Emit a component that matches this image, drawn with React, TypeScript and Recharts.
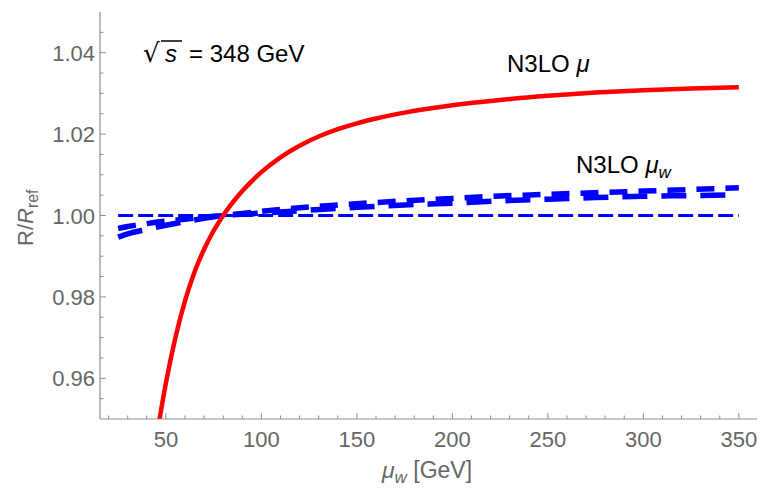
import React from "react";
import { LineChart, Line, XAxis, YAxis } from "recharts";

// mu_w [GeV] vs R/R_ref
const MU_RED = [46.5, 50, 55, 60, 65, 70, 75, 80, 90, 100, 110, 120, 130, 140, 150, 160, 175, 200, 225, 250, 275, 300, 325, 350];
const R_RED = [0.9495, 0.9588, 0.97, 0.979, 0.9861, 0.9917, 0.99625, 1.0, 1.006, 1.01065, 1.0143, 1.01715, 1.0194, 1.0212, 1.02265, 1.02383, 1.02527, 1.02707, 1.02838, 1.0294, 1.0302, 1.0308, 1.0312, 1.0315];

const MU_BLUE = [25, 30, 40, 50, 60, 70, 80.4, 90, 100, 125, 150, 175, 200, 225, 250, 275, 300, 325, 350];
const R_BLUE_UP = [0.9968, 0.9973, 0.998, 0.9986, 0.9991, 0.9996, 1.0, 1.0005, 1.001, 1.0021, 1.0029, 1.0036, 1.0042, 1.0048, 1.0052, 1.0056, 1.006, 1.0064, 1.0068];
const R_BLUE_LO = [0.9947, 0.9955, 0.9966, 0.9976, 0.9985, 0.9993, 1.0, 1.0003, 1.0006, 1.0013, 1.002, 1.0026, 1.003, 1.0036, 1.004, 1.0044, 1.0047, 1.0049, 1.0051];

const MU_REF = [25, 350];
const R_REF = [1.0, 1.0];

const X_MAJOR = [50, 100, 150, 200, 250, 300, 350];
const X_TICKS = [20, 30, 40, 50, 60, 70, 80, 90, 100, 110, 120, 130, 140, 150, 160, 170, 180, 190, 200, 210, 220, 230, 240, 250, 260, 270, 280, 290, 300, 310, 320, 330, 340, 350];
const Y_MAJOR = [0.96, 0.98, 1.0, 1.02, 1.04];
const Y_TICKS = [0.955, 0.96, 0.965, 0.97, 0.975, 0.98, 0.985, 0.99, 0.995, 1.0, 1.005, 1.01, 1.015, 1.02, 1.025, 1.03, 1.035, 1.04, 1.045];

const toRows = (xs: number[], ys: number[]) => xs.map((mu, i) => ({ mu, v: ys[i] }));

const FRAME = "#8f8f8f";
const LABEL = "#666";
const FONT = "'Liberation Sans', Arial, Helvetica, sans-serif";

const isMajor = (list: number[], v: number) => list.some((m) => Math.abs(m - v) < 1e-9);

const BottomTick = ({ x, y, payload }: any) => {
  const major = isMajor(X_MAJOR, payload.value);
  return (
    <g>
      <line x1={x} x2={x} y1={y} y2={y - (major ? 6 : 3.5)} stroke={FRAME} strokeWidth={1} />
      {major && (
        <text x={x} y={y + 28} textAnchor="middle" fill={LABEL} fontSize={22} fontFamily={FONT}>
          {payload.value}
        </text>
      )}
    </g>
  );
};

const TopTick = ({ x, y, payload }: any) => {
  const major = isMajor(X_MAJOR, payload.value);
  return <line x1={x} x2={x} y1={y} y2={y + (major ? 6 : 3.5)} stroke={FRAME} strokeWidth={1} />;
};

const LeftTick = ({ x, y, payload }: any) => {
  const major = isMajor(Y_MAJOR, payload.value);
  return (
    <g>
      <line x1={x} x2={x + (major ? 6 : 3.5)} y1={y} y2={y} stroke={FRAME} strokeWidth={1} />
      {major && (
        <text x={x - 5} y={y + 8} textAnchor="end" fill={LABEL} fontSize={22} fontFamily={FONT}>
          {payload.value.toFixed(2)}
        </text>
      )}
    </g>
  );
};

const RightTick = ({ x, y, payload }: any) => {
  const major = isMajor(Y_MAJOR, payload.value);
  return <line x1={x} x2={x - (major ? 6 : 3.5)} y1={y} y2={y} stroke={FRAME} strokeWidth={1} />;
};

export default function App() {
  return (
    <div style={{ position: "absolute", left: 0, top: 0, width: 761, height: 492, background: "#fff" }}>
      <LineChart width={761} height={492} margin={{ top: 12, right: 4, bottom: 0, left: 0 }}>
        <XAxis
          type="number"
          dataKey="mu"
          domain={[15.5, 359.5]}
          ticks={X_TICKS}
          interval={0}
          allowDataOverflow
          height={73}
          tickSize={0}
          tickMargin={0}
          tickLine={false}
          tick={<BottomTick />}
          axisLine={{ stroke: FRAME, strokeWidth: 1.2 }}
        />
        <XAxis
          xAxisId="t"
          orientation="top"
          type="number"
          dataKey="mu"
          domain={[15.5, 359.5]}
          ticks={X_TICKS}
          interval={0}
          allowDataOverflow
          height={0}
          tickSize={0}
          tickMargin={0}
          tickLine={false}
          tick={<TopTick />}
          axisLine={{ stroke: FRAME, strokeWidth: 1.2 }}
        />
        <YAxis
          type="number"
          domain={[0.95, 1.05]}
          ticks={Y_TICKS}
          interval={0}
          allowDataOverflow
          width={100}
          tickSize={0}
          tickMargin={0}
          tickLine={false}
          tick={<LeftTick />}
          axisLine={{ stroke: FRAME, strokeWidth: 1.2 }}
        />
        <YAxis
          yAxisId="r"
          orientation="right"
          type="number"
          domain={[0.95, 1.05]}
          ticks={Y_TICKS}
          interval={0}
          allowDataOverflow
          width={0}
          tickSize={0}
          tickMargin={0}
          tickLine={false}
          tick={<RightTick />}
          axisLine={{ stroke: FRAME, strokeWidth: 1.2 }}
        />
        <Line data={toRows(MU_REF, R_REF)} dataKey="v" stroke="#0000ff" strokeWidth={3} strokeDasharray="15 5" dot={false} isAnimationActive={false} />
        <Line data={toRows(MU_BLUE, R_BLUE_LO)} dataKey="v" type="monotone" stroke="#0000ff" strokeWidth={5.5} strokeDasharray="25 14" dot={false} isAnimationActive={false} />
        <Line data={toRows(MU_BLUE, R_BLUE_UP)} dataKey="v" type="monotone" stroke="#0000ff" strokeWidth={5.5} strokeDasharray="18 11" dot={false} isAnimationActive={false} />
        <Line data={toRows(MU_RED, R_RED)} dataKey="v" type="monotone" stroke="#ff0000" strokeWidth={4.5} dot={false} isAnimationActive={false} />
      </LineChart>
      <svg width={761} height={492} style={{ position: "absolute", left: 0, top: 0, pointerEvents: "none" }} fontFamily={FONT}>
        <text x={143} y={62} fontSize={26} fill="#000" fontFamily="'DejaVu Sans', sans-serif">√</text>
        <line x1={161} x2={182} y1={41} y2={41} stroke="#000" strokeWidth={1.5} />
        <text x={165} y={62} fontSize={24} fill="#000" fontStyle="italic">s</text>
        <text x={189} y={62} fontSize={24} fill="#000">= 348 GeV</text>
        <text x={507} y={72} fontSize={24} fill="#000">
          N3LO <tspan fontStyle="italic">μ</tspan>
        </text>
        <text x={576} y={173} fontSize={24} fill="#000">
          N3LO <tspan fontStyle="italic">μ</tspan>
          <tspan fontStyle="italic" fontSize={17} dy={5}>w</tspan>
        </text>
        <text x={382} y={478} fontSize={23} fill={LABEL}>
          <tspan fontStyle="italic">μ</tspan>
          <tspan fontStyle="italic" fontSize={17} dy={5}>w</tspan>
          <tspan dy={-5}> [GeV]</tspan>
        </text>
        <text transform="translate(33 246) rotate(-90)" fontSize={22} fill={LABEL}>
          R/<tspan fontStyle="italic">R</tspan>
          <tspan fontSize={16} dy={5}>ref</tspan>
        </text>
      </svg>
    </div>
  );
}
